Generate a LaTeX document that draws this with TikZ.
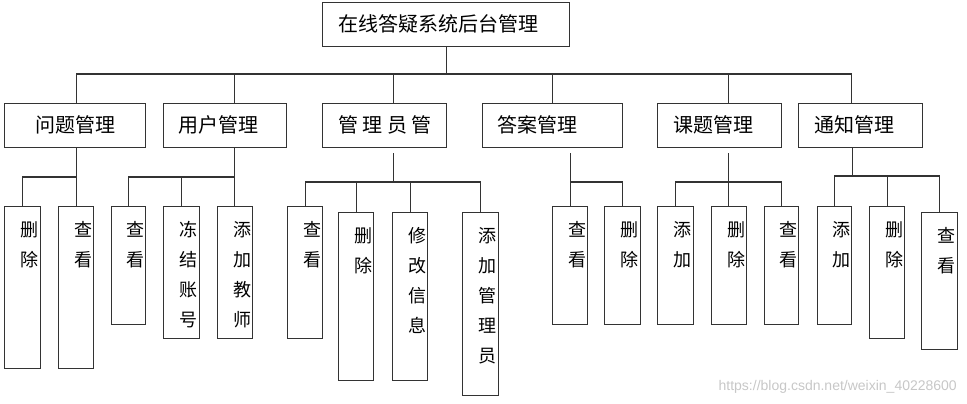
\documentclass[tikz,border=0pt]{standalone}
\usepackage{fontspec}
\setmainfont{Noto Sans CJK SC}
\newfontfamily\wmfont{Liberation Sans}
\usetikzlibrary{positioning}
\tikzstyle{kuang}=[rectangle,draw=black!80,line width=1.2pt,anchor=north west,inner sep=0pt]
\tikzstyle{xian}=[draw=black!80,line width=1.2pt]
\tikzstyle{mokuai}=[anchor=west,inner sep=0pt,font=\fontsize{20}{24}\selectfont]
\tikzstyle{gongneng}=[anchor=north,inner sep=0pt,align=center,font=\fontsize{18}{30}\selectfont,xshift=7pt,yshift=-15pt]
% box from (x1,y1) to (x2,y2), y counted downwards
\newcommand{\kuangzi}[5]{\node[kuang,minimum width=#4pt-#2pt,minimum height=#5pt-#3pt] (#1) at (#2,#3) {};}
\newcommand{\yezi}[6]{\kuangzi{#1}{#2}{#3}{#4}{#5}\node[gongneng] (#1-t) at (#1.north) {#6};}

\begin{document}
\begin{tikzpicture}[x=1pt,y=-1pt]
\useasboundingbox (0,0) rectangle (967,404);
% top
\kuangzi{root}{322}{2}{569}{46}
\node[mokuai] (root-t) at (338,24) {在线答疑系统后台管理};
% modules
\kuangzi{wt}{4}{103}{145}{147}
\kuangzi{yh}{163}{103}{286}{147}
\kuangzi{gly}{322}{103}{446}{147}
\kuangzi{da}{482}{103}{622}{147}
\kuangzi{kt}{657}{103}{781}{147}
\kuangzi{tz}{798}{103}{922}{147}
\node[mokuai] (wt-t) at (35,125) {问题管理};
\node[mokuai] (yh-t) at (178,125) {用户管理};
\node[mokuai] (gly-t) at (338,125) {管 理 员 管};
\node[mokuai] (da-t) at (497,125) {答案管理};
\node[mokuai] (kt-t) at (673,125) {课题管理};
\node[mokuai] (tz-t) at (814,125) {通知管理};
% functions
\yezi{sc1}{4}{206}{40}{368}{删\\除}
\yezi{ck1}{58}{206}{93}{368}{查\\看}
\yezi{ck2}{111}{206}{145}{324}{查\\看}
\yezi{dj2}{163}{206}{199}{338}{冻\\结\\账\\号}
\yezi{tj2}{217}{206}{252}{338}{添\\加\\教\\师}
\yezi{ck3}{287}{206}{322}{338}{查\\看}
\yezi{sc3}{338}{212}{373}{380}{删\\除}
\yezi{xg3}{392}{212}{427}{380}{修\\改\\信\\息}
\yezi{tj3}{462}{212}{498}{395}{添\\加\\管\\理\\员}
\yezi{ck4}{552}{206}{587}{324}{查\\看}
\yezi{sc4}{604}{206}{640}{324}{删\\除}
\yezi{tj5}{657}{206}{693}{324}{添\\加}
\yezi{sc5}{711}{206}{746}{324}{删\\除}
\yezi{ck5}{764}{206}{798}{324}{查\\看}
\yezi{tj6}{817}{206}{851}{324}{添\\加}
\yezi{sc6}{869}{206}{904}{338}{删\\除}
\yezi{ck6}{921}{212}{957}{349}{查\\看}
% bus lines
\coordinate (zhu) at (0,74);
\coordinate (ganA) at (0,177);
\coordinate (ganB) at (0,182);
\coordinate (ganC) at (0,176);
\draw[xian] (root.south) -- (root.south |- zhu);
\draw[xian] ([xshift=1.5pt]wt.north) |- ([xshift=-9pt]tz.north |- zhu) -- ([xshift=-9pt]tz.north);
\foreach \n/\d in {yh/9.5,gly/9,da/0,kt/9}
  \draw[xian] ([xshift=\d pt]\n.north) -- ([xshift=\d pt]\n.north |- zhu);
% wt
\draw[xian] ([xshift=1.5pt]wt.south) -- ([xshift=1.5pt]wt.south |- ck1.north);
\draw[xian] (sc1.north) |- ([xshift=1.5pt]wt.south |- ganA);
% yh
\draw[xian] ([xshift=9.5pt]yh.south) -- ([xshift=9.5pt]yh.south |- tj2.north);
\draw[xian] (ck2.north) |- ([xshift=9.5pt]yh.south |- ganA);
\draw[xian] (dj2.north) -- (dj2.north |- ganA);
% gly
\draw[xian] ([xshift=9pt,yshift=-5pt]gly.south) -- ([xshift=9pt]gly.south |- ganB);
\draw[xian] (ck3.north) |- (tj3.north |- ganB) -- (tj3.north);
\draw[xian] (sc3.north) -- (sc3.north |- ganB);
\draw[xian] (xg3.north) -- (xg3.north |- ganB);
% da
\draw[xian] ([yshift=-5pt]da.south -| ck4.north) -- (ck4.north);
\draw[xian] (sc4.north) |- (ck4.north |- ganB);
% kt
\draw[xian] ([xshift=9pt,yshift=-5pt]kt.south) -- ([xshift=9pt]kt.south |- sc5.north);
\draw[xian] (tj5.north) |- (ck5.north |- ganB) -- (ck5.north);
% tz
\draw[xian] ([xshift=-8pt]tz.south) -- ([xshift=-8pt]tz.south |- ganC);
\draw[xian] (tj6.north) |- (ck6.north |- ganC) -- (ck6.north);
\draw[xian] (sc6.north) -- (sc6.north |- ganC);
\node[text=black!22,font=\wmfont\fontsize{14}{16}\selectfont,anchor=east,inner sep=0pt] (shuiyin) at (957,387) {https://blog.csdn.net/weixin\_40228600};
\end{tikzpicture}
\end{document}
